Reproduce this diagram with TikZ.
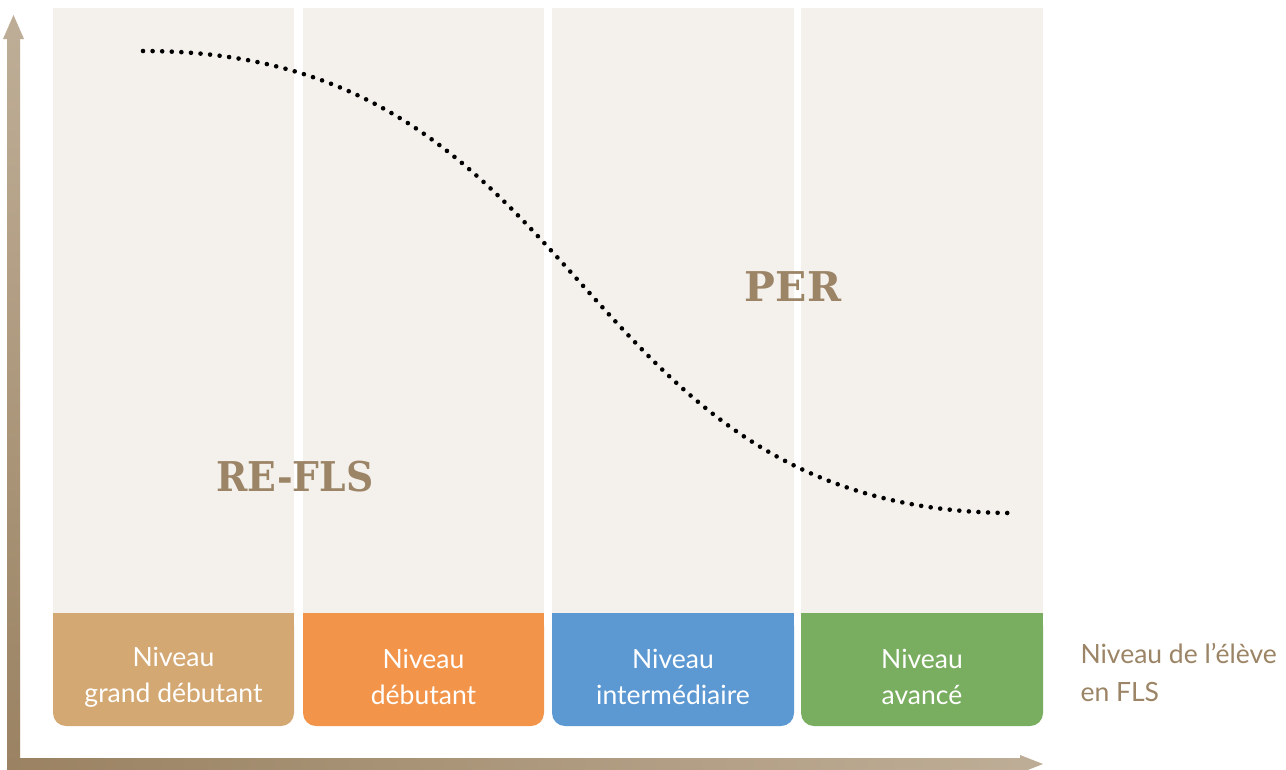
\documentclass[tikz,border=0pt]{standalone}
\usepackage{fontspec}
\setmainfont{Lato}
\newfontfamily\slabfont{DejaVu Serif}
\definecolor{colbg}{HTML}{F4F0EC}
\definecolor{axdark}{HTML}{9A8262}
\definecolor{axlight}{HTML}{BEAD96}
\definecolor{labelbrown}{HTML}{9C8466}
\definecolor{cA}{HTML}{D4A872}
\definecolor{cB}{HTML}{F2954A}
\definecolor{cC}{HTML}{5C98D2}
\definecolor{cD}{HTML}{79AD60}
\tikzset{
  levelbox/.style={rounded corners=13pt},
  leveltext/.style={text=white, font=\fontsize{26.5}{36}\selectfont, align=center},
  bigword/.style={text=labelbrown, font=\slabfont\bfseries\fontsize{41}{44}\selectfont},
  axislabel/.style={text=labelbrown, font=\fontsize{26.5}{38}\selectfont, align=left, anchor=west},
  dotcurve/.style={line width=4.6pt, line cap=round, dash pattern=on 0pt off 9.6pt},
}
\begin{document}
\begin{tikzpicture}[x=1pt,y=-1pt]
\useasboundingbox (0,0) rectangle (1286,769);
\fill[white] (0,0) rectangle (1286,769);
% columns
\foreach \xa/\xb/\c [count=\i] in {53/294/cA,303/544/cB,552/794/cC,801/1043/cD}{
  \fill[colbg] (\xa,8) rectangle (\xb,626);
  \fill[\c, levelbox] (\xa,613) rectangle (\xb,726);
  \fill[\c] (\xa,613) rectangle (\xb,640);
}
% labels
\node[leveltext] (lA) at (173.5,677) {Niveau\\grand débutant};
\node[leveltext] (lB) at (423.5,677) {Niveau\\débutant};
\node[leveltext] (lC) at (673,677) {Niveau\\intermédiaire};
\node[leveltext] (lD) at (922,677) {Niveau\\avancé};
\node[axislabel] (xlab) at (1077,672) {Niveau de l’élève\\en FLS};
% axes
\coordinate (corner) at (13.5,764);
\coordinate (ytip) at (13.5,15);
\coordinate (xtip) at (1043,764);
\shade[top color=axlight, bottom color=axdark] (7,38) rectangle (20,770);
\fill[axlight] (3,39) -- (ytip) -- (24,39) -- cycle;
\shade[left color=axdark, right color=axlight] (7,758) rectangle (1021,770);
\fill[axlight] (1020,755) -- (xtip) -- (1020,773) -- cycle;
% curve
\coordinate (cstart) at (143,51);
\coordinate (cend) at (1014,513);
\draw[dotcurve] (cstart) .. controls (600,51) and (560,513) .. (cend);
% big words
\node[bigword, xscale=0.92] (refls) at (295,477) {RE-FLS};
\node[bigword] (per) at (793,287) {PER};
\end{tikzpicture}
\end{document}
